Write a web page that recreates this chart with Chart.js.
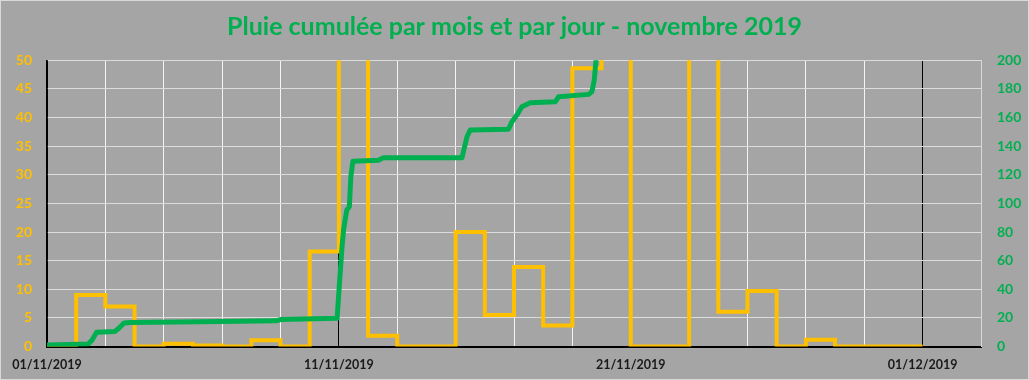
<!DOCTYPE html>
<html><head><meta charset="utf-8">
<script src="https://cdn.jsdelivr.net/npm/chart.js@4.4.1/dist/chart.umd.min.js"></script>
<style>
html,body{margin:0;padding:0;background:#a5a5a5;}
#wrap{position:relative;width:1029px;height:380px;background:#a5a5a5;}
#frame{position:absolute;left:0;top:0;width:1029px;height:380px;box-sizing:border-box;border:1px solid #d9d9d9;pointer-events:none;}
canvas{display:block;}
</style></head><body>
<div id="wrap"><canvas id="c" width="1029" height="380"></canvas><div id="frame"></div></div>
<script>
const titleText = 'Pluie cumulée par mois et par jour - novembre 2019';
const dateLabels = ['01/11/2019', '11/11/2019', '21/11/2019', '01/12/2019'];
const dateLabelDays = [0, 10, 20, 30];

// daily rain (left axis), one value per day starting 01/11
const dayIndex = [0,1,2,3,4,5,6,7,8,9,10,11,12,13,14,15,16,17,18,19,20,21,22,23,24,25,26,27,28,29,30];
const dailyRain = [0, 9.0, 7.0, 0, 0.5, 0.2, 0, 1.1, 0, 16.6, 112, 1.9, 0, 0, 20.0, 5.5, 13.9, 3.7, 48.6, 62, 0, 0, 66, 6.1, 9.7, 0, 1.2, 0, 0, 0, 0];

// monthly cumulative rain (right axis), time in days since 01/11
const cumDays = [0.00, 1.41, 1.54, 1.70, 2.33, 2.47, 2.64, 2.85, 5.25, 7.85, 8.02, 9.94, 10.02, 10.10, 10.16, 10.27, 10.36, 10.41, 10.48, 11.36, 11.53, 14.22, 14.28, 14.39, 14.50, 15.81, 15.93, 16.10, 16.27, 16.56, 17.42, 17.53, 18.56, 18.67, 18.75, 18.81, 18.86];
const cumRain = [1.2, 1.8, 4.5, 10.0, 10.6, 13.0, 16.5, 16.8, 17.3, 18.0, 19.0, 19.8, 44, 67.5, 81.5, 95.4, 97.7, 118.7, 129.5, 130.2, 132.0, 132.0, 137.3, 146.6, 151.3, 151.8, 157.1, 161.8, 167.6, 170.4, 171.1, 174.6, 176.2, 178.1, 186.2, 200.2, 210];

const leftTicks = {min: 0, max: 50, step: 5};
const rightTicks = {min: 0, max: 200, step: 20};

const YELLOW = '#FFC000';
const GREEN = '#00B050';

function draw() {
  new Chart(document.getElementById('c'), {
    type: 'line',
    data: {
      datasets: [
        {
          label: 'cumul mois',
          data: cumDays.map((d, i) => ({x: d, y: cumRain[i]})),
          yAxisID: 'y2',
          borderColor: GREEN,
          borderWidth: 5,
          pointRadius: 0,
          tension: 0,
          borderJoinStyle: 'round',
          borderCapStyle: 'round',
          clip: 0,
          order: 0
        },
        {
          label: 'pluie jour',
          data: dayIndex.map((d, i) => ({x: d, y: dailyRain[i]})),
          yAxisID: 'y',
          borderColor: YELLOW,
          borderWidth: 4,
          pointRadius: 0,
          stepped: 'before',
          clip: 0,
          order: 1
        }
      ]
    },
    options: {
      responsive: false,
      animation: false,
      layout: {padding: 0},
      plugins: {
        legend: {display: false},
        tooltip: {enabled: false},
        title: {
          display: true,
          text: titleText,
          color: GREEN,
          font: {family: 'Lato', size: 25, weight: 'bold', lineHeight: 1.2},
          padding: {top: 12, bottom: 18.3}
        }
      },
      scales: {
        x: {
          type: 'linear',
          position: 'bottom',
          min: 0,
          max: 32,
          afterFit: s => { s.height = 33.4; },
          ticks: {
            stepSize: 2,
            autoSkip: false,
            maxRotation: 0,
            minRotation: 0,
            padding: 11,
            color: '#1a1a1a',
            font: {family: 'Lato', size: 12.5, weight: 'bold'},
            callback: v => { const i = dateLabelDays.indexOf(v); return i >= 0 ? dateLabels[i] : ''; }
          },
          grid: {
            drawTicks: false,
            lineWidth: 1,
            color: ctx => {
              const v = ctx.tick ? ctx.tick.value : -1;
              if (v === 32) return '#D9D9D9';
              return (v % 10 === 0) ? '#000000' : '#F4F4F4';
            }
          },
          border: {color: '#000000', width: 2}
        },
        y: {
          position: 'left',
          min: leftTicks.min,
          max: leftTicks.max,
          afterFit: s => { s.width = 47; },
          ticks: {
            stepSize: leftTicks.step,
            padding: 15,
            color: YELLOW,
            font: {family: 'Lato', size: 14, weight: 'bold'}
          },
          grid: {
            drawTicks: false,
            lineWidth: 1,
            color: ctx => (ctx.tick && ctx.tick.value === 0) ? 'rgba(0,0,0,0)' : '#DCDCDC'
          },
          border: {color: '#000000', width: 1.5}
        },
        y2: {
          position: 'right',
          min: rightTicks.min,
          max: rightTicks.max,
          afterFit: s => { s.width = 48; },
          ticks: {
            stepSize: rightTicks.step,
            padding: 16,
            color: GREEN,
            font: {family: 'Lato', size: 14, weight: 'bold'}
          },
          grid: {drawOnChartArea: false, drawTicks: false},
          border: {color: '#D9D9D9', width: 1}
        }
      }
    }
  });
}

if (document.fonts && document.fonts.load) {
  Promise.all([
    document.fonts.load('bold 25px Lato'),
    document.fonts.load('bold 14px Lato')
  ]).then(draw, draw);
} else {
  draw();
}
</script>
</body></html>
